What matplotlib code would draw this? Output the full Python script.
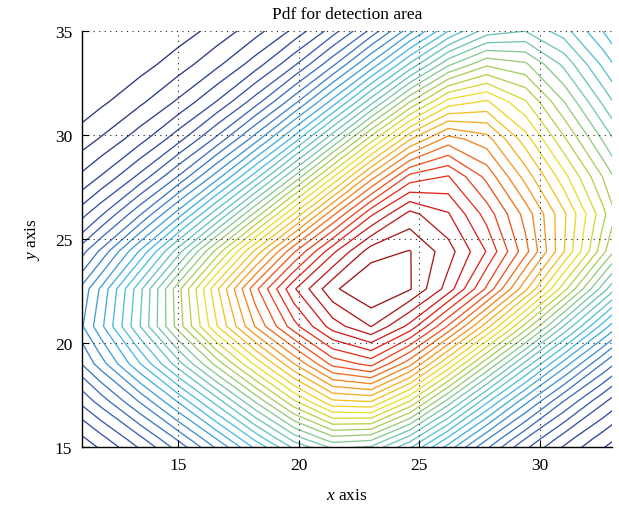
import numpy as np
import matplotlib
matplotlib.use("Agg")
import matplotlib.pyplot as plt
from matplotlib.colors import LinearSegmentedColormap, Normalize

# ---- data ----
title = "Pdf for detection area"
x_limits = [11, 33]
y_limits = [15, 35]
x_ticks = [15, 20, 25, 30]
y_ticks = [15, 20, 25, 30, 35]
# coarse sampling grid of the pdf (as seen from the polygonal contours)
x_grid = np.arange(10.2, 34.3, 1.6)
y_grid = np.arange(13.6, 35.3, 1.8)
# pdf shape parameters, fitted to contour positions
center = (23.18, 22.75)
band1_angles_deg = (41.7, 40.1)    # (upper-left flank, lower-right flank)
band1_scales = (5.40, 5.34)
band2_angles_deg = (-59.7, -40.0)  # (upper-right flank, lower-left flank)
band2_scales = (10.18, 6.54)
shape_power = 4.32
profile_power = 1.91
n_levels = 40


def side_coord(dx, dy, ang_deg):
    a = np.deg2rad(ang_deg)
    return -np.sin(a) * dx + np.cos(a) * dy


# ---- field ----
X, Y = np.meshgrid(x_grid, y_grid)
dx = X - center[0]
dy = Y - center[1]
U = np.maximum(np.maximum(side_coord(dx, dy, band1_angles_deg[0]) / band1_scales[0],
                          -side_coord(dx, dy, band1_angles_deg[1]) / band1_scales[1]), 0)
V = np.maximum(np.maximum(side_coord(dx, dy, band2_angles_deg[0]) / band2_scales[0],
                          -side_coord(dx, dy, band2_angles_deg[1]) / band2_scales[1]), 0)
R = (U ** shape_power + V ** shape_power) ** (1.0 / shape_power)
Z = np.exp(-0.5 * R ** profile_power)

# contour levels spread between the extremes of the samples inside the plotted window
inside = ((X >= x_limits[0]) & (X <= x_limits[1]) &
          (Y >= y_limits[0]) & (Y <= y_limits[1]))
zmin, zmax = Z[inside].min(), Z.max()
levels = np.linspace(zmin, zmax, n_levels + 2)[1:-1]

cmap = LinearSegmentedColormap.from_list("printjet", [
    (0.00, "#27307a"),
    (0.12, "#33479e"),
    (0.25, "#3d78c4"),
    (0.37, "#45bde6"),
    (0.50, "#7dc7a0"),
    (0.58, "#b5d04c"),
    (0.64, "#efe026"),
    (0.72, "#f5a822"),
    (0.80, "#ee5a20"),
    (0.88, "#e0231e"),
    (1.00, "#861616"),
])

plt.rcParams["font.family"] = ["Liberation Serif", "DejaVu Serif"]
plt.rcParams["mathtext.fontset"] = "custom"
plt.rcParams["mathtext.rm"] = "Liberation Serif"
plt.rcParams["mathtext.it"] = "Liberation Serif:italic"

fig = plt.figure(figsize=(6.19, 5.10), dpi=100)
ax = fig.add_axes([0.1325, 0.1216, 0.8562, 0.8157])

ax.contour(X, Y, Z, levels=levels, cmap=cmap,
           norm=Normalize(vmin=zmin, vmax=zmax), linewidths=0.95)

ax.set_xlim(*x_limits)
ax.set_ylim(*y_limits)
ax.set_xticks(x_ticks)
ax.set_yticks(y_ticks)
ax.tick_params(direction="in", length=5, width=0.8, labelsize=12.5, pad=7,
               top=False, right=False)
for s in ["top", "right"]:
    ax.spines[s].set_visible(False)
for s in ["left", "bottom"]:
    ax.spines[s].set_linewidth(1.0)
ax.grid(True, color="#222222", linestyle=(0, (1, 4)), linewidth=0.8)
ax.set_axisbelow(False)

ax.set_title(title, fontsize=12.5, pad=9)
ax.set_xlabel(r"$\it{x}$ axis", fontsize=12.5, labelpad=10)
ax.set_ylabel(r"$\it{y}$ axis", fontsize=12.5, labelpad=9)

fig.savefig("out.png", dpi=100)
